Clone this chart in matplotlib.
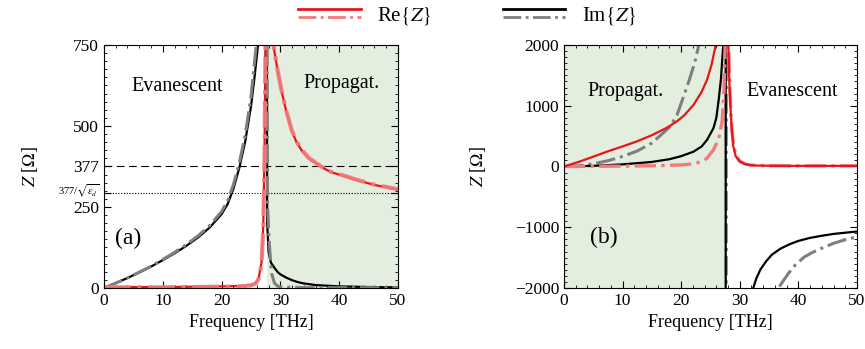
import numpy as np
import matplotlib
matplotlib.use("Agg")
import matplotlib.pyplot as plt
from matplotlib.lines import Line2D
from matplotlib.legend_handler import HandlerBase
from matplotlib.ticker import MultipleLocator

plt.rcParams['font.family'] = ['Liberation Serif', 'DejaVu Serif']
plt.rcParams['mathtext.fontset'] = 'stix'

# (a) panel, points beyond the y-limits are clipped
fa_re = [0, 5, 10, 15, 20, 23, 25, 25.8, 26.3, 26.8, 27.1, 27.3, 27.45, 27.55, 28.7, 28.8, 29.1, 29.6,
         30.2, 31.0, 31.9, 32.7, 33.6, 34.8, 36.2, 37.5, 38.7, 40, 41.5, 43, 44.4, 46, 48, 50]
za_re = [3, 3, 3, 4, 5, 6, 9, 15, 30, 80, 200, 420, 750, 850, 850, 750, 718, 663,
         608, 545, 487, 452, 425, 400, 383, 368, 357, 350, 342, 333, 326, 318, 311, 304]
fa_re2 = [0, 5, 10, 15, 20, 23, 25, 25.8, 26.3, 26.8, 27.1, 27.3, 27.45, 27.55, 28.7, 28.8, 29.1, 29.6,
          30.2, 31.0, 31.9, 32.7, 33.6, 34.8, 36.2, 37.5, 38.7, 40, 41.5, 43, 44.4, 46, 48, 50]
za_re2 = [2, 2, 2, 3, 4, 5, 8, 14, 28, 75, 190, 400, 730, 850, 850, 752, 720, 665,
          610, 547, 489, 454, 427, 402, 384, 369, 358, 351, 343, 334, 327, 319, 312, 305]
fa_im = [0, 2, 4, 6, 8, 10, 12, 14, 16, 18, 20, 21, 22, 23, 24, 25, 25.6, 26.2, 26.5, 27.7, 27.75,
         28.0, 28.4, 29.0, 29.5, 30, 31, 32, 33, 34, 36, 38, 40, 45, 50]
za_im = [0, 15, 31, 48, 66, 86, 107, 130, 156, 187, 228, 258, 305, 370, 450, 560, 650, 750, 850, 850, 200,
         110, 78, 62, 50, 42, 32, 24, 18, 14, 9, 7, 5, 3, 2]
fa_im2 = [0, 2, 4, 6, 8, 10, 12, 14, 16, 18, 20, 21, 22, 23, 24, 25, 25.5, 25.9, 26.2, 27.75, 27.8,
          28.1, 28.5, 29.0, 29.5, 30, 35, 40, 45, 50]
za_im2 = [0, 15, 31, 49, 67, 88, 110, 134, 161, 193, 236, 268, 318, 385, 470, 590, 680, 750, 850, 850, 260,
          140, 45, 15, 6, 3, 1, 1, 1, 1]

# (b) panel
fb_re = [0, 2.5, 5, 7.5, 10, 12.5, 15, 17.5, 19.2, 20.5, 22.1, 23.5, 24.4, 25.2, 25.9, 26.0, 28.0, 28.05,
         28.2, 28.4, 28.6, 28.9, 29.3, 30, 31, 32, 33, 35, 40, 45, 50]
zb_re = [0, 75, 162, 250, 330, 415, 515, 635, 738, 840, 1012, 1230, 1424, 1680, 2000, 2100, 2100, 2000,
         1450, 1000, 650, 330, 170, 79, 35, 20, 15, 12, 10, 10, 10]
fb_re2 = [0, 5, 10, 15, 20, 22, 23.5, 24.4, 25.5, 26.4, 27.0, 27.3, 27.5, 27.6, 28.0, 28.1, 28.3, 28.5,
          28.7, 29.0, 29.5, 30, 31, 32, 35, 40, 45, 50]
zb_re2 = [0, 3, 6, 12, 25, 45, 80, 136, 272, 450, 750, 1200, 2000, 2100, 2100, 2000, 1300, 850,
          560, 320, 160, 90, 40, 22, 12, 10, 10, 10]
fb_im = [0, 5, 10, 15, 18, 20, 22.1, 23.5, 24.4, 25.5, 26.0, 26.4, 26.8, 27.0, 27.2, 27.3, 27.6, 27.6,
         32.0, 32.3, 32.8, 33.5, 34.5, 35.5, 37, 38.5, 40, 42, 44, 46, 48, 50]
zb_im = [0, 10, 35, 75, 120, 170, 244, 330, 436, 628, 800, 1095, 1450, 1753, 2000, 2100, 2100, -2100,
         -2100, -2000, -1850, -1700, -1560, -1450, -1350, -1280, -1225, -1175, -1140, -1110, -1090, -1070]
fb_im2 = [0, 2.5, 5, 7.5, 10, 12.5, 15, 17, 18.1, 19.3, 20.4, 21.3, 22.1, 22.6, 23.0, 23.1, 27.7, 27.7,
          36.4, 36.6, 37.3, 38.3, 39.5, 41, 42.5, 44, 46, 48, 50]
zb_im2 = [0, 12, 44, 95, 165, 255, 385, 560, 656, 850, 1150, 1400, 1643, 1820, 2000, 2100, 2100, -2100,
          -2100, -2000, -1900, -1760, -1620, -1490, -1410, -1345, -1265, -1205, -1160]

f_pole = 27.7
z0 = 377
z_d = 294

red, red_lt = '#e8141c', '#f27a7c'
blk, grey = 'black', '#7f7f7f'
shade = '#e3eedf'


class TwoLines(HandlerBase):
    # solid line on top, dash-dot line just below it
    def create_artists(self, legend, orig_handle, xdescent, ydescent, width, height, fontsize, trans):
        out = []
        for ln, y in zip(orig_handle, [0.8 * height, 0.2 * height]):
            l = Line2D([-xdescent, width - xdescent], [y - ydescent, y - ydescent],
                       color=ln.get_color(), ls=ln.get_linestyle(), lw=ln.get_linewidth())
            l.set_transform(trans)
            out.append(l)
        return out


fig = plt.figure(figsize=(8.65, 3.49), dpi=100)
ax1 = fig.add_axes([0.1202, 0.1748, 0.3399, 0.6963])
ax2 = fig.add_axes([0.6520, 0.1748, 0.3387, 0.6963])

# panel (a)
ax1.axvspan(f_pole, 50, color=shade, lw=0, zorder=0)
ax1.axhline(z0, color='k', lw=0.8, dashes=(7, 4))
ax1.axhline(z_d, color='k', lw=0.8, ls=(0, (1, 1.5)))
ax1.plot(fa_im, za_im, color=blk, lw=1.6)
ax1.plot(fa_im2, za_im2, color=grey, lw=2.2, ls='-.')
ax1.plot(fa_re, za_re, color=red, lw=1.6)
ax1.plot(fa_re2, za_re2, color=red_lt, lw=3.0, ls='-.', alpha=0.9)
ax1.set_xlim(0, 50)
ax1.set_ylim(0, 750)
ax1.set_yticks([0, 250, z_d, z0, 500, 750])
ax1.set_yticklabels(['0', '250', '', '377', '500', '750'])
# small label for the 377/sqrt(eps_d) tick, nudged up a little
ax1.text(-0.015, z_d + 8, r'377/$\sqrt{\varepsilon_d}$', transform=ax1.get_yaxis_transform(),
         ha='right', va='center', fontsize=7.5)
ax1.yaxis.set_minor_locator(MultipleLocator(25))
ax1.text(12.5, 622, 'Evanescent', ha='center', va='center', fontsize=14.5)
ax1.text(40.4, 630, 'Propagat.', ha='center', va='center', fontsize=14.5)
ax1.text(1.8, 152, '(a)', ha='left', va='center', fontsize=17)

# panel (b)
ax2.axvspan(0, f_pole, color=shade, lw=0, zorder=0)
ax2.plot(fb_im2, zb_im2, color=grey, lw=2.2, ls='-.')
ax2.plot(fb_im, zb_im, color=blk, lw=1.6)
ax2.plot(fb_re2, zb_re2, color=red_lt, lw=2.4, ls='-.')
ax2.plot(fb_re, zb_re, color=red, lw=1.6)
ax2.set_xlim(0, 50)
ax2.set_ylim(-2000, 2000)
ax2.set_yticks([-2000, -1000, 0, 1000, 2000])
ax2.set_yticklabels(['\u22122000', '\u22121000', '0', '1000', '2000'])
ax2.yaxis.set_minor_locator(MultipleLocator(100))
ax2.text(10.5, 1230, 'Propagat.', ha='center', va='center', fontsize=14.5)
ax2.text(39.0, 1230, 'Evanescent', ha='center', va='center', fontsize=14.5)
ax2.text(4.4, -1160, '(b)', ha='left', va='center', fontsize=17)

for ax in (ax1, ax2):
    ax.set_xticks([0, 10, 20, 30, 40, 50])
    ax.xaxis.set_minor_locator(MultipleLocator(2))
    ax.tick_params(which='both', direction='in', top=True, right=True, labelsize=12.5)
    ax.tick_params(which='major', length=5)
    ax.tick_params(which='minor', length=2.5)
    ax.set_xlabel('Frequency [THz]', fontsize=13)
ax1.set_ylabel(r'$Z$ [$\Omega$]', fontsize=13, labelpad=24)
ax2.set_ylabel(r'$Z$ [$\Omega$]', fontsize=13, labelpad=19)

h_re = (Line2D([], [], color=red, lw=2), Line2D([], [], color=red_lt, lw=2, ls='-.'))
h_im = (Line2D([], [], color=blk, lw=2), Line2D([], [], color=grey, lw=2, ls='-.'))
fig.legend([h_re, h_im], [r'Re$\{Z\}$', r'Im$\{Z\}$'], handler_map={tuple: TwoLines()},
           loc='center', bbox_to_anchor=(0.5405, 0.955), ncol=2, frameon=False, fontsize=15,
           handlelength=3.0, handletextpad=0.8, columnspacing=3.4)

fig.savefig('out.png', dpi=100)
